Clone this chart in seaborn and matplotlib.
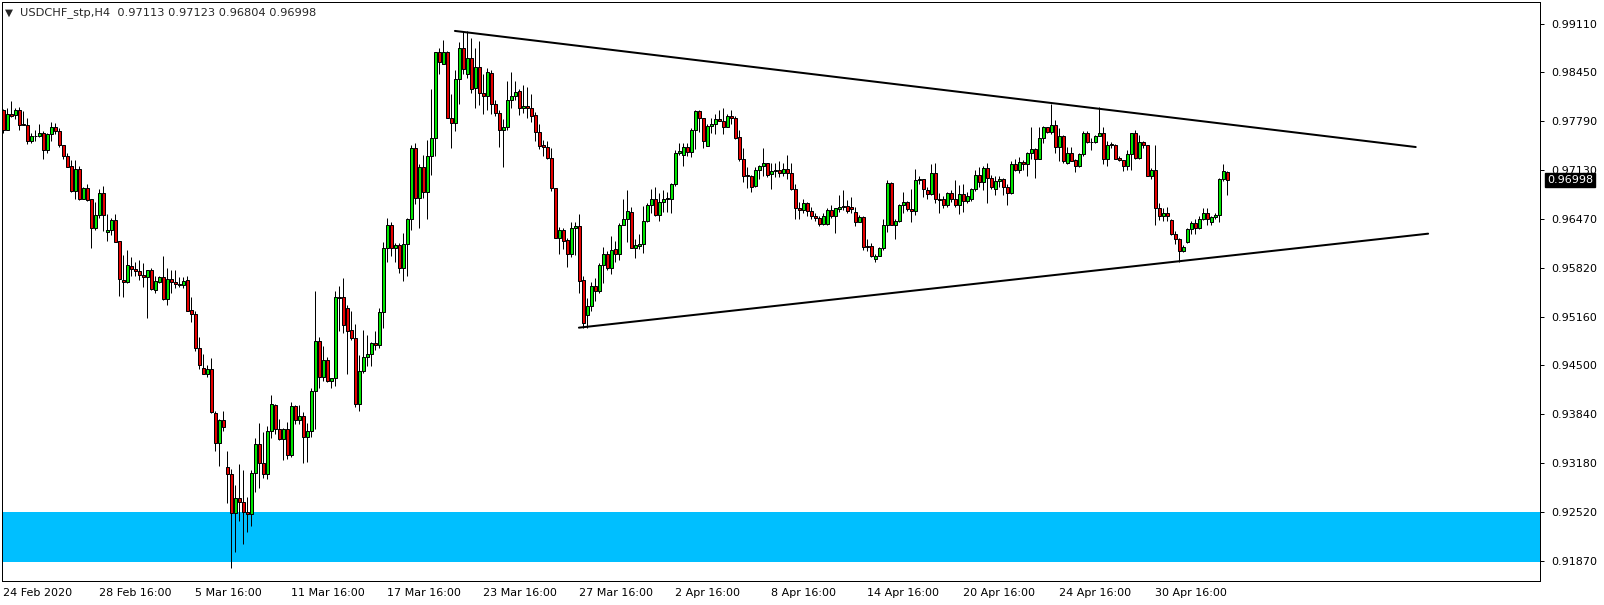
import numpy as np
import pandas as pd
import matplotlib
matplotlib.use("Agg")
import matplotlib.pyplot as plt
import matplotlib.transforms as mtransforms
import seaborn as sns

# USDCHF H4 candles (open, high, low, close)
opens = [
    0.9795, 0.9767, 0.9789, 0.9788, 0.9795, 0.9774, 0.9774, 0.9752, 0.9759, 0.9759,
    0.9764, 0.9741, 0.9762, 0.9771, 0.9766, 0.9747, 0.9733, 0.9719, 0.9685, 0.9715,
    0.9675, 0.9689, 0.9675, 0.9635, 0.9653, 0.9683, 0.9630, 0.9633, 0.9646, 0.9618,
    0.9565, 0.9562, 0.9584, 0.9580, 0.9578, 0.9572, 0.9569, 0.9579, 0.9552, 0.9562,
    0.9569, 0.9540, 0.9566, 0.9563, 0.9560, 0.9558, 0.9565, 0.9525, 0.9520, 0.9473,
    0.9446, 0.9439, 0.9445, 0.9386, 0.9345, 0.9376, 0.9313, 0.9304, 0.9251, 0.9271,
    0.9266, 0.9252, 0.9250, 0.9305, 0.9344, 0.9319, 0.9304, 0.9362, 0.9397, 0.9365,
    0.9351, 0.9364, 0.9330, 0.9396, 0.9376, 0.9382, 0.9353, 0.9362, 0.9415, 0.9483,
    0.9435, 0.9458, 0.9429, 0.9433, 0.9543, 0.9542, 0.9527, 0.9498, 0.9487, 0.9398,
    0.9442, 0.9461, 0.9465, 0.9480, 0.9477, 0.9522, 0.9609, 0.9640, 0.9609, 0.9613,
    0.9582, 0.9614, 0.9648, 0.9743, 0.9676, 0.9718, 0.9684, 0.9733, 0.9757, 0.9872,
    0.9856, 0.9872, 0.9783, 0.9777, 0.9836, 0.9878, 0.9843, 0.9864, 0.9824, 0.9853,
    0.9817, 0.9813, 0.9844, 0.9802, 0.9791, 0.9767, 0.9771, 0.9808, 0.9813, 0.9820,
    0.9797, 0.9800, 0.9797, 0.9788, 0.9765, 0.9747, 0.9744, 0.9730, 0.9689, 0.9622,
    0.9632, 0.9619, 0.9600, 0.9635, 0.9638, 0.9565, 0.9518, 0.9530, 0.9557, 0.9551,
    0.9586, 0.9600, 0.9581, 0.9607, 0.9600, 0.9640, 0.9648, 0.9657, 0.9609, 0.9611,
    0.9614, 0.9645, 0.9667, 0.9675, 0.9653, 0.9670, 0.9675, 0.9675, 0.9694, 0.9737,
    0.9734, 0.9744, 0.9738, 0.9768, 0.9793, 0.9783, 0.9746, 0.9773, 0.9776, 0.9782,
    0.9780, 0.9772, 0.9786, 0.9783, 0.9758, 0.9728, 0.9706, 0.9706, 0.9692, 0.9713,
    0.9719, 0.9723, 0.9708, 0.9712, 0.9714, 0.9709, 0.9715, 0.9709, 0.9688, 0.9662,
    0.9660, 0.9669, 0.9658, 0.9652, 0.9649, 0.9641, 0.9641, 0.9660, 0.9651, 0.9661,
    0.9665, 0.9665, 0.9663, 0.9657, 0.9644, 0.9650, 0.9611, 0.9611, 0.9593, 0.9598,
    0.9608, 0.9639, 0.9696, 0.9640, 0.9645, 0.9666, 0.9670, 0.9661, 0.9658, 0.9700,
    0.9702, 0.9686, 0.9681, 0.9709, 0.9675, 0.9674, 0.9667, 0.9683, 0.9674, 0.9666,
    0.9681, 0.9672, 0.9674, 0.9688, 0.9707, 0.9698, 0.9716, 0.9703, 0.9688, 0.9699,
    0.9702, 0.9690, 0.9683, 0.9721, 0.9713, 0.9724, 0.9721, 0.9736, 0.9742, 0.9729,
    0.9757, 0.9771, 0.9765, 0.9774, 0.9745, 0.9759, 0.9723, 0.9736, 0.9727, 0.9719,
    0.9735, 0.9763, 0.9751, 0.9751, 0.9759, 0.9764, 0.9729, 0.9747, 0.9747, 0.9730,
    0.9727, 0.9719, 0.9735, 0.9763, 0.9730, 0.9751, 0.9747, 0.9706, 0.9714, 0.9662,
    0.9651, 0.9656, 0.9646, 0.9627, 0.9620, 0.9604, 0.9617, 0.9634, 0.9642, 0.9635,
    0.9648, 0.9655, 0.9643, 0.9650, 0.9653, 0.9702, 0.97113,
]
highs = [
    0.9796, 0.9797, 0.9806, 0.9797, 0.9799, 0.9793, 0.9784, 0.9763, 0.9767, 0.9775,
    0.9766, 0.9764, 0.9778, 0.9777, 0.9770, 0.9747, 0.9737, 0.9727, 0.9727, 0.9719,
    0.9691, 0.9695, 0.9675, 0.9671, 0.9688, 0.9692, 0.9654, 0.9649, 0.9654, 0.9618,
    0.9599, 0.9606, 0.9596, 0.9589, 0.9592, 0.9588, 0.9579, 0.9581, 0.9570, 0.9571,
    0.9597, 0.9582, 0.9579, 0.9579, 0.9569, 0.9569, 0.9571, 0.9542, 0.9523, 0.9489,
    0.9466, 0.9451, 0.9460, 0.9388, 0.9378, 0.9388, 0.9335, 0.9310, 0.9289, 0.9317,
    0.9309, 0.9273, 0.9309, 0.9352, 0.9373, 0.9360, 0.9368, 0.9410, 0.9398, 0.9378,
    0.9366, 0.9374, 0.9401, 0.9397, 0.9397, 0.9387, 0.9372, 0.9419, 0.9551, 0.9489,
    0.9476, 0.9462, 0.9433, 0.9551, 0.9557, 0.9568, 0.9532, 0.9524, 0.9506, 0.9464,
    0.9498, 0.9491, 0.9482, 0.9497, 0.9528, 0.9616, 0.9649, 0.9643, 0.9615, 0.9615,
    0.9628, 0.9649, 0.9747, 0.9750, 0.9721, 0.9734, 0.9754, 0.9823, 0.9873, 0.9878,
    0.9889, 0.9874, 0.9816, 0.9848, 0.9886, 0.9901, 0.9901, 0.9891, 0.9878, 0.9887,
    0.9843, 0.9851, 0.9848, 0.9808, 0.9794, 0.9782, 0.9834, 0.9846, 0.9833, 0.9823,
    0.9828, 0.9825, 0.9816, 0.9792, 0.9775, 0.9754, 0.9752, 0.9743, 0.9689, 0.9637,
    0.9635, 0.9622, 0.9643, 0.9644, 0.9654, 0.9570, 0.9541, 0.9563, 0.9568, 0.9588,
    0.9610, 0.9604, 0.9624, 0.9618, 0.9642, 0.9675, 0.9686, 0.9664, 0.9621, 0.9627,
    0.9665, 0.9669, 0.9688, 0.9690, 0.9682, 0.9686, 0.9684, 0.9696, 0.9741, 0.9750,
    0.9750, 0.9750, 0.9770, 0.9794, 0.9795, 0.9783, 0.9776, 0.9783, 0.9789, 0.9794,
    0.9797, 0.9789, 0.9794, 0.9786, 0.9767, 0.9743, 0.9718, 0.9707, 0.9718, 0.9720,
    0.9743, 0.9723, 0.9723, 0.9723, 0.9725, 0.9723, 0.9734, 0.9723, 0.9695, 0.9671,
    0.9674, 0.9671, 0.9664, 0.9655, 0.9651, 0.9655, 0.9662, 0.9667, 0.9662, 0.9680,
    0.9687, 0.9673, 0.9677, 0.9663, 0.9653, 0.9652, 0.9621, 0.9615, 0.9600, 0.9610,
    0.9648, 0.9700, 0.9698, 0.9648, 0.9668, 0.9684, 0.9672, 0.9688, 0.9715, 0.9705,
    0.9702, 0.9691, 0.9722, 0.9723, 0.9682, 0.9679, 0.9684, 0.9687, 0.9700, 0.9693,
    0.9694, 0.9684, 0.9689, 0.9714, 0.9717, 0.9719, 0.9723, 0.9707, 0.9705, 0.9705,
    0.9703, 0.9694, 0.9726, 0.9729, 0.9731, 0.9727, 0.9738, 0.9772, 0.9743, 0.9771,
    0.9773, 0.9772, 0.9803, 0.9781, 0.9770, 0.9761, 0.9745, 0.9745, 0.9728, 0.9736,
    0.9766, 0.9766, 0.9756, 0.9761, 0.9799, 0.9772, 0.9752, 0.9751, 0.9748, 0.9733,
    0.9727, 0.9741, 0.9764, 0.9767, 0.9761, 0.9753, 0.9747, 0.9716, 0.9747, 0.9669,
    0.9662, 0.9663, 0.9648, 0.9631, 0.9622, 0.9613, 0.9636, 0.9645, 0.9648, 0.9651,
    0.9662, 0.9662, 0.9652, 0.9655, 0.9703, 0.9721, 0.97123,
]
lows = [
    0.9764, 0.9767, 0.9785, 0.9782, 0.9767, 0.9774, 0.9749, 0.9750, 0.9752, 0.9758,
    0.9728, 0.9737, 0.9752, 0.9762, 0.9744, 0.9729, 0.9717, 0.9684, 0.9674, 0.9673,
    0.9674, 0.9672, 0.9609, 0.9632, 0.9649, 0.9631, 0.9618, 0.9626, 0.9616, 0.9544,
    0.9542, 0.9561, 0.9570, 0.9570, 0.9565, 0.9556, 0.9514, 0.9552, 0.9548, 0.9561,
    0.9538, 0.9531, 0.9548, 0.9555, 0.9556, 0.9555, 0.9524, 0.9508, 0.9469, 0.9445,
    0.9438, 0.9435, 0.9386, 0.9335, 0.9315, 0.9362, 0.9264, 0.9177, 0.9198, 0.9241,
    0.9210, 0.9226, 0.9234, 0.9280, 0.9285, 0.9298, 0.9297, 0.9352, 0.9357, 0.9349,
    0.9322, 0.9324, 0.9326, 0.9371, 0.9371, 0.9319, 0.9320, 0.9354, 0.9365, 0.9420,
    0.9429, 0.9428, 0.9420, 0.9423, 0.9497, 0.9494, 0.9438, 0.9485, 0.9394, 0.9389,
    0.9440, 0.9449, 0.9449, 0.9471, 0.9473, 0.9501, 0.9589, 0.9597, 0.9590, 0.9575,
    0.9564, 0.9571, 0.9632, 0.9668, 0.9636, 0.9676, 0.9648, 0.9707, 0.9733, 0.9843,
    0.9856, 0.9783, 0.9743, 0.9766, 0.9802, 0.9843, 0.9837, 0.9817, 0.9797, 0.9801,
    0.9789, 0.9794, 0.9789, 0.9786, 0.9745, 0.9717, 0.9768, 0.9797, 0.9808, 0.9788,
    0.9790, 0.9783, 0.9778, 0.9753, 0.9742, 0.9732, 0.9729, 0.9685, 0.9622, 0.9600,
    0.9607, 0.9583, 0.9596, 0.9599, 0.9548, 0.9500, 0.9500, 0.9524, 0.9537, 0.9548,
    0.9561, 0.9579, 0.9573, 0.9590, 0.9592, 0.9640, 0.9617, 0.9608, 0.9595, 0.9607,
    0.9601, 0.9644, 0.9655, 0.9651, 0.9645, 0.9657, 0.9657, 0.9656, 0.9692, 0.9734,
    0.9719, 0.9732, 0.9731, 0.9742, 0.9765, 0.9743, 0.9746, 0.9764, 0.9762, 0.9779,
    0.9762, 0.9771, 0.9776, 0.9755, 0.9726, 0.9698, 0.9689, 0.9684, 0.9690, 0.9702,
    0.9706, 0.9704, 0.9688, 0.9704, 0.9704, 0.9706, 0.9702, 0.9687, 0.9648, 0.9647,
    0.9655, 0.9651, 0.9647, 0.9645, 0.9638, 0.9640, 0.9640, 0.9649, 0.9628, 0.9657,
    0.9659, 0.9656, 0.9655, 0.9638, 0.9643, 0.9606, 0.9604, 0.9596, 0.9590, 0.9597,
    0.9606, 0.9630, 0.9640, 0.9620, 0.9644, 0.9656, 0.9658, 0.9644, 0.9653, 0.9695,
    0.9677, 0.9675, 0.9680, 0.9669, 0.9655, 0.9662, 0.9664, 0.9670, 0.9664, 0.9654,
    0.9657, 0.9669, 0.9672, 0.9685, 0.9691, 0.9687, 0.9669, 0.9688, 0.9680, 0.9691,
    0.9680, 0.9667, 0.9681, 0.9712, 0.9709, 0.9714, 0.9706, 0.9729, 0.9703, 0.9729,
    0.9750, 0.9764, 0.9762, 0.9736, 0.9726, 0.9723, 0.9721, 0.9725, 0.9711, 0.9718,
    0.9733, 0.9750, 0.9741, 0.9750, 0.9759, 0.9721, 0.9719, 0.9743, 0.9728, 0.9726,
    0.9712, 0.9714, 0.9714, 0.9729, 0.9728, 0.9743, 0.9705, 0.9702, 0.9639, 0.9646,
    0.9645, 0.9645, 0.9626, 0.9614, 0.9590, 0.9603, 0.9615, 0.9627, 0.9627, 0.9634,
    0.9646, 0.9639, 0.9640, 0.9648, 0.9644, 0.9699, 0.96804,
]
closes = [
    0.9768, 0.9789, 0.9787, 0.9795, 0.9774, 0.9775, 0.9752, 0.9759, 0.9759, 0.9764,
    0.9741, 0.9762, 0.9771, 0.9766, 0.9747, 0.9733, 0.9718, 0.9685, 0.9715, 0.9675,
    0.9689, 0.9673, 0.9635, 0.9653, 0.9683, 0.9653, 0.9633, 0.9646, 0.9617, 0.9566,
    0.9562, 0.9586, 0.9580, 0.9578, 0.9572, 0.9569, 0.9579, 0.9553, 0.9564, 0.9569,
    0.9540, 0.9566, 0.9562, 0.9560, 0.9558, 0.9564, 0.9524, 0.9520, 0.9473, 0.9450,
    0.9439, 0.9445, 0.9387, 0.9345, 0.9376, 0.9367, 0.9304, 0.9251, 0.9271, 0.9266,
    0.9252, 0.9250, 0.9305, 0.9344, 0.9319, 0.9304, 0.9362, 0.9398, 0.9365, 0.9351,
    0.9364, 0.9330, 0.9396, 0.9376, 0.9382, 0.9353, 0.9362, 0.9416, 0.9483, 0.9435,
    0.9458, 0.9429, 0.9433, 0.9543, 0.9541, 0.9505, 0.9497, 0.9487, 0.9398, 0.9442,
    0.9461, 0.9465, 0.9480, 0.9477, 0.9522, 0.9609, 0.9640, 0.9609, 0.9613, 0.9582,
    0.9614, 0.9648, 0.9743, 0.9676, 0.9718, 0.9684, 0.9733, 0.9757, 0.9872, 0.9859,
    0.9872, 0.9783, 0.9777, 0.9836, 0.9878, 0.9850, 0.9864, 0.9823, 0.9853, 0.9817,
    0.9813, 0.9846, 0.9802, 0.9791, 0.9767, 0.9771, 0.9808, 0.9813, 0.9819, 0.9797,
    0.9800, 0.9797, 0.9786, 0.9765, 0.9746, 0.9744, 0.9730, 0.9689, 0.9622, 0.9632,
    0.9618, 0.9600, 0.9635, 0.9638, 0.9564, 0.9507, 0.9530, 0.9557, 0.9551, 0.9586,
    0.9600, 0.9581, 0.9606, 0.9600, 0.9640, 0.9648, 0.9658, 0.9609, 0.9612, 0.9614,
    0.9645, 0.9667, 0.9675, 0.9653, 0.9670, 0.9675, 0.9675, 0.9694, 0.9737, 0.9739,
    0.9744, 0.9738, 0.9768, 0.9793, 0.9783, 0.9752, 0.9773, 0.9776, 0.9782, 0.9780,
    0.9772, 0.9786, 0.9783, 0.9756, 0.9728, 0.9706, 0.9706, 0.9690, 0.9713, 0.9719,
    0.9723, 0.9707, 0.9712, 0.9714, 0.9709, 0.9715, 0.9709, 0.9688, 0.9662, 0.9660,
    0.9669, 0.9658, 0.9651, 0.9649, 0.9641, 0.9651, 0.9660, 0.9652, 0.9662, 0.9663,
    0.9663, 0.9658, 0.9661, 0.9644, 0.9650, 0.9610, 0.9610, 0.9597, 0.9598, 0.9608,
    0.9639, 0.9696, 0.9640, 0.9645, 0.9666, 0.9670, 0.9661, 0.9658, 0.9700, 0.9702,
    0.9688, 0.9681, 0.9709, 0.9675, 0.9673, 0.9667, 0.9683, 0.9674, 0.9666, 0.9681,
    0.9672, 0.9679, 0.9688, 0.9707, 0.9698, 0.9716, 0.9703, 0.9690, 0.9699, 0.9702,
    0.9690, 0.9683, 0.9721, 0.9713, 0.9724, 0.9721, 0.9736, 0.9742, 0.9729, 0.9757,
    0.9771, 0.9765, 0.9774, 0.9745, 0.9759, 0.9725, 0.9736, 0.9726, 0.9719, 0.9735,
    0.9763, 0.9751, 0.9751, 0.9759, 0.9764, 0.9729, 0.9747, 0.9748, 0.9729, 0.9727,
    0.9719, 0.9735, 0.9763, 0.9730, 0.9751, 0.9747, 0.9706, 0.9714, 0.9662, 0.9651,
    0.9656, 0.9651, 0.9627, 0.9620, 0.9604, 0.9610, 0.9634, 0.9642, 0.9635, 0.9648,
    0.9655, 0.9648, 0.9650, 0.9653, 0.9702, 0.9712, 0.96998,
]

# time axis labels (one every 24 bars)
date_labels = ["24 Feb 2020", "28 Feb 16:00", "5 Mar 16:00", "11 Mar 16:00",
               "17 Mar 16:00", "23 Mar 16:00", "27 Mar 16:00", "2 Apr 16:00",
               "8 Apr 16:00", "14 Apr 16:00", "20 Apr 16:00", "24 Apr 16:00",
               "30 Apr 16:00"]
label_step = 24

price_ticks = [0.99110, 0.98450, 0.97790, 0.97130, 0.96470, 0.95820,
               0.95160, 0.94500, 0.93840, 0.93180, 0.92520, 0.91870]

# support zone and triangle trend lines (bar index, price)
zone_low, zone_high = 0.9185, 0.9252
upper_line_x = [112.9, 353.1]
upper_line_y = [0.9901, 0.97445]
lower_line_x = [143.9, 356.2]
lower_line_y = [0.9501, 0.96277]

symbol = "USDCHF_stp,H4"

df = pd.DataFrame({"open": opens, "high": highs, "low": lows, "close": closes})
df["bar"] = np.arange(len(df))
df["up"] = df["close"] >= df["open"]

sns.set_style("white")
plt.rcParams["font.family"] = ["DejaVu Sans"]

W, H = 1604, 605
fig = plt.figure(figsize=(W / 100, H / 100), dpi=100)
ax = fig.add_axes([2 / W, 24 / H, 1538 / W, 579 / H])

px = 0.72  # one pixel in points

# support zone
ax.axhspan(zone_low, zone_high, color="#00bfff", lw=0, zorder=1)

# wicks
ax.vlines(df["bar"], df["low"], df["high"], color="black", lw=px, zorder=2)

# bodies
body_bottom = df[["open", "close"]].min(axis=1)
body_height = (df["close"] - df["open"]).abs().clip(lower=0.00003)
fill = np.where(df["up"], "#00e600", "#e60000")
ax.bar(df["bar"], body_height, bottom=body_bottom, width=0.68, color=fill,
       edgecolor="black", linewidth=px, zorder=3)

# trend lines
lines = pd.DataFrame({
    "x": upper_line_x + lower_line_x,
    "y": upper_line_y + lower_line_y,
    "line": ["upper"] * 2 + ["lower"] * 2,
})
sns.lineplot(data=lines, x="x", y="y", units="line", estimator=None,
             color="black", lw=2 * px, ax=ax, zorder=4)

ax.set_xlim(-0.33, 384.17)
ax.set_ylim(0.91595, 0.99400)

# axes styling like the terminal
for s in ax.spines.values():
    s.set_color("black")
    s.set_linewidth(px)
ax.yaxis.tick_right()
ax.set_yticks(price_ticks)
ax.set_yticklabels([f"{p:.5f}" for p in price_ticks])
ax.set_xticks(np.arange(len(date_labels)) * label_step)
ax.set_xticklabels(date_labels)
for lbl in ax.get_xticklabels():
    lbl.set_horizontalalignment("left")
ax.tick_params(axis="both", direction="out", length=4 * px, width=px,
               color="black", labelsize=8, labelcolor="black")
ax.tick_params(axis="y", pad=5)
ax.tick_params(axis="x", pad=2)
ax.set_xlabel("")
ax.set_ylabel("")
ax.grid(False)

# current price marker
trans = mtransforms.blended_transform_factory(fig.transFigure, ax.transData)
ax.text(1547 / W, closes[-1], f"{closes[-1]:.5f}", transform=trans,
        ha="left", va="center", fontsize=8, color="white", zorder=10,
        bbox=dict(boxstyle="square,pad=0.18", fc="black", ec="black"))

# header
fig.text(5 / W, 1 - 13 / H, "\u25bc", fontsize=7.5, va="center", ha="left")
fig.text(20 / W, 1 - 13 / H,
         f"{symbol}  {opens[-1]:.5f} {highs[-1]:.5f} {lows[-1]:.5f} {closes[-1]:.5f}",
         fontsize=8.2, va="center", ha="left")

fig.savefig("out.png", dpi=100, facecolor="white")
